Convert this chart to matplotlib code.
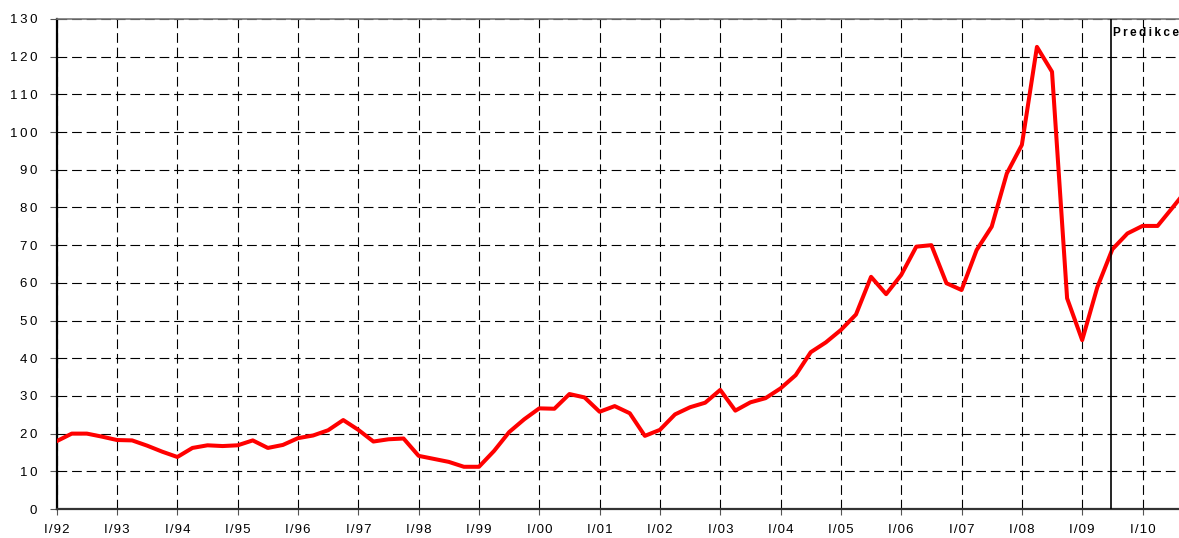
import matplotlib.pyplot as plt

# quarterly index, I/92 .. II/10 (last point partly cut off at right edge)
values = [18.0, 20.0, 20.0, 19.2, 18.3, 18.2, 16.8, 15.2,
          13.8, 16.2, 16.9, 16.7, 16.9, 18.2, 16.2, 17.0,
          18.8, 19.5, 20.9, 23.6, 21.0, 17.9, 18.5, 18.7,
          14.1, 13.3, 12.5, 11.2, 11.2, 15.4, 20.4, 23.8,
          26.7, 26.6, 30.5, 29.6, 25.8, 27.3, 25.4, 19.4,
          21.0, 25.1, 27.0, 28.2, 31.6, 26.1, 28.3, 29.4,
          32.0, 35.5, 41.6, 44.2, 47.5, 51.6, 61.6, 57.0,
          62.1, 69.6, 70.0, 59.9, 58.1, 68.7, 74.9, 89.0,
          96.6, 122.6, 116.0, 55.9, 44.8, 58.8, 68.9, 73.1,
          75.1, 75.1, 80.0, 85.0]
years = ['92', '93', '94', '95', '96', '97', '98', '99', '00',
         '01', '02', '03', '04', '05', '06', '07', '08', '09', '10']
forecast_start = 69.9
forecast_label = 'Predikce'

plt.rcParams['font.family'] = ['Liberation Sans', 'DejaVu Sans']
plt.rcParams['lines.scale_dashes'] = False


def spaced(s, sep='\u2009'):
    return sep.join(s)


fig = plt.figure(figsize=(11.79, 5.38), dpi=100)
ax = fig.add_axes([0.0481, 0.0539, 0.9519, 0.9108])

x = list(range(len(values)))
ax.plot(x, values, color='#ff0000', lw=2.9, zorder=3)
ax.axvline(forecast_start, color='black', lw=1.2, zorder=4)
ax.text(forecast_start + 0.17, 127.8, spaced(forecast_label), fontsize=8.5,
        fontweight='bold', va='top', ha='left')

ax.set_xlim(0, 74.42)
ax.set_ylim(0, 130)
ax.set_yticks(range(0, 131, 10))
ax.set_yticklabels([spaced(str(v)) for v in range(0, 131, 10)], fontsize=9.5)
ax.set_xticks(range(0, 4 * len(years), 4))
ax.set_xticklabels([spaced('I/' + y, '\u200a') for y in years], fontsize=9.5)

ax.grid(True, color='black', lw=0.8, linestyle=(0, (7, 3.5)))
ax.set_axisbelow(True)
ax.tick_params(axis='y', length=5, width=0.8, color='#555555', pad=9)
ax.tick_params(axis='x', length=4, width=0.8, color='#555555', pad=7)

ax.spines['right'].set_visible(False)
ax.spines['top'].set_color('#777777')
ax.spines['top'].set_linewidth(1.2)
ax.spines['left'].set_linewidth(1.6)
ax.spines['bottom'].set_linewidth(1.6)
ax.spines['bottom'].set_color('#333333')

fig.savefig('out.png', dpi=100)
